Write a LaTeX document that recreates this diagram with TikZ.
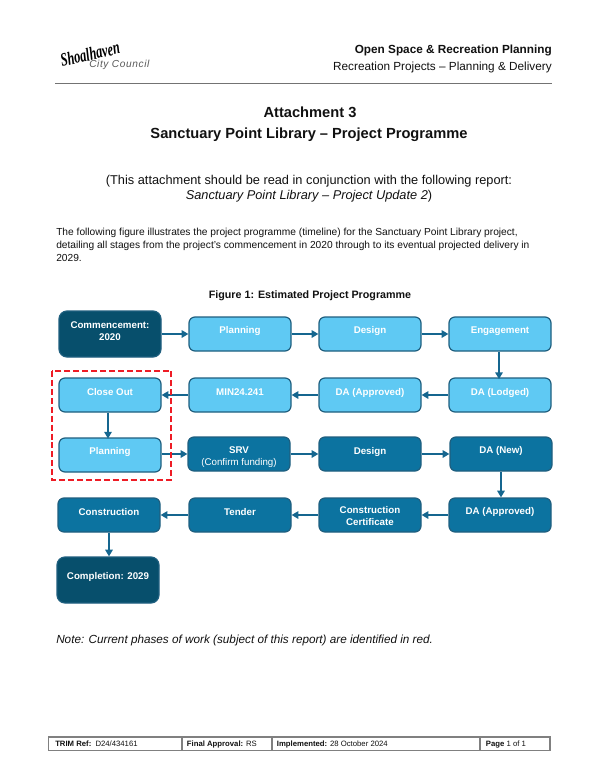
\documentclass[tikz,border=0pt]{standalone}
\usepackage{fontspec}
\setmainfont{Liberation Sans}
\newfontfamily\logofont{Liberation Serif}
\newfontfamily\logosans[LetterSpace=6]{Liberation Sans}
\usetikzlibrary{arrows.meta}
\definecolor{lightb}{HTML}{5FC9F3}
\definecolor{midb}{HTML}{0C73A0}
\definecolor{darkb}{HTML}{074F6C}
\definecolor{edgeb}{HTML}{1F5F7F}
\definecolor{arrowb}{HTML}{15668F}
\definecolor{redd}{HTML}{EE1C25}
\definecolor{ink}{HTML}{111111}
\tikzset{
 x=0.75pt,y=-0.75pt,
 box/.style={draw=edgeb,line width=0.9pt,rounded corners=4.5pt,minimum width=76.5pt,minimum height=25.5pt,inner sep=0pt,anchor=center},
 lb/.style={box,fill=lightb},
 mb/.style={box,fill=midb},
 db/.style={box,fill=darkb,minimum height=34.5pt,rounded corners=6pt},
 flow/.style={draw=arrowb,line width=1.2pt,-{Triangle[length=5pt,width=5.5pt]}},
 txt/.style={inner sep=0pt,text=ink,font=\fontsize{7.65}{9}\selectfont},
 cellb/.style={inner sep=0pt,anchor=base west,text=ink,font=\fontsize{5.8}{7}\selectfont},
 rule/.style={draw=black!55,line width=0.6pt},
 lbl/.style={inner sep=0pt,yshift=-1pt,text=white,font=\fontsize{7.3}{9}\selectfont\bfseries,align=center}
}
\begin{document}
\begin{tikzpicture}
\useasboundingbox (0,0) rectangle (600,776);
\fill[white] (0,0) rectangle (600,776);
% logo
\node[inner sep=0pt,rotate=13,font=\logofont\fontsize{14}{15}\selectfont\bfseries\itshape,text=black] (logoa) at (90,54) {\scalebox{0.66}[1.0]{Shoalhaven}};
\node[inner sep=0pt,font=\logosans\fontsize{7.6}{10}\selectfont\itshape,text=black!65,anchor=west] (logoc) at (89,65) {City Council};
% header
\node[txt,anchor=east,font=\fontsize{8.83}{11}\selectfont\bfseries] (h1) at (552,50) {Open Space \& Recreation Planning};
\node[txt,anchor=east,font=\fontsize{8.83}{11}\selectfont] (h2) at (552,67) {Recreation Projects – Planning \& Delivery};
\draw[rule] (55,83.5) -- (552,83.5);
% titles
\node[txt,font=\fontsize{11}{14}\selectfont\bfseries] (t1) at (310,112.5) {Attachment 3};
\node[txt,font=\fontsize{11}{14}\selectfont\bfseries] (t2) at (309,135) {Sanctuary Point Library – Project Programme};
\node[txt,font=\fontsize{9.58}{12}\selectfont] (s1) at (309,181) {(This attachment should be read in conjunction with the following report:};
\node[txt,font=\fontsize{9.58}{12}\selectfont] (s2) at (309,196) {\itshape Sanctuary Point Library – Project Update 2\upshape )};
\node[txt,anchor=west] (p1) at (56,233) {The following figure illustrates the project programme (timeline) for the Sanctuary Point Library project,};
\node[txt,anchor=west] (p2) at (56,246) {detailing all stages from the project's commencement in 2020 through to its eventual projected delivery in};
\node[txt,anchor=west] (p3) at (56,258) {2029.};
\node[txt,font=\fontsize{8.04}{10}\selectfont\bfseries] (fig) at (310,296) {Figure 1: Estimated Project Programme};
% boxes
\node[db] (a1) at (110,334) {};
\node[lbl] at (110,330) {Commencement:\\2020};
\node[lb] (a2) at (240,334) {};
\node[lbl] at (240,330) {Planning};
\node[lb] (a3) at (370,334) {};
\node[lbl] at (370,330) {Design};
\node[lb] (a4) at (500,334) {};
\node[lbl] at (500,330) {Engagement};
\node[lb] (b1) at (110,395) {};
\node[lbl] at (110,391) {Close Out};
\node[lb] (b2) at (240,395) {};
\node[lbl] at (240,391) {MIN24.241};
\node[lb] (b3) at (370,395) {};
\node[lbl] at (370,392) {DA (Approved)};
\node[lb] (b4) at (500,395) {};
\node[lbl] at (500,392) {DA (Lodged)};
\node[lb] (c1) at (110,455) {};
\node[lbl] at (110,451) {Planning};
\node[mb] (c2) at (239,454) {};
\node[lbl,font=\fontsize{7.3}{9}\selectfont] at (239,456) {{\bfseries SRV}\\(Confirm funding)};
\node[mb] (c3) at (370,454) {};
\node[lbl] at (370,451) {Design};
\node[mb] (c4) at (501,454) {};
\node[lbl] at (501,450) {DA (New)};
\node[mb] (d1) at (109,515) {};
\node[lbl] at (109,511) {Construction};
\node[mb] (d2) at (240,515) {};
\node[lbl] at (240,511) {Tender};
\node[mb] (d3) at (370,515) {};
\node[lbl] at (370,515) {Construction\\Certificate};
\node[mb] (d4) at (500,515) {};
\node[lbl] at (500,511) {DA (Approved)};
\node[db] (e1) at (108,580) {};
\node[lbl] at (108,576) {Completion: 2029};
% connectors
\draw[flow] (a1.east |- a2.west) -- (a2.west);
\draw[flow] (a2) -- (a3);
\draw[flow] (a3) -- (a4);
\draw[flow] (a4.south) ++(-1,0) -- ++(0,27.5);
\draw[flow] (b4.west) -- (b4.west -| b3.east);
\draw[flow] (b3.west) -- (b3.west -| b2.east);
\draw[flow] (b2.west) -- (b2.west -| b1.east);
\draw[flow] (b1.south) ++(-2,0) -- ++(0,26);
\draw[flow] (c1.east |- c2.west) -- (c2.west);
\draw[flow] (c2.east |- c3.west) -- (c3.west);
\draw[flow] (c3) -- (c4);
\draw[flow] (c4.south) -- (c4.south |- d4.north);
\draw[flow] (d4.west) -- (d4.west -| d3.east);
\draw[flow] (d3.west) -- (d3.west -| d2.east);
\draw[flow] (d2.west) -- (d2.west -| d1.east);
\draw[flow] (d1.south) -- (d1.south |- e1.north);
% red highlight
\draw[redd,line width=1.5pt,dash pattern=on 4.5pt off 2.2pt] (52,371) rectangle (171,480);
% note
\node[txt,anchor=west,font=\fontsize{8.8}{12}\selectfont\itshape] (note) at (56,640) {Note: Current phases of work (subject of this report) are identified in red.};
% footer table
\draw[draw=black!50,line width=0.8pt] (48.5,737) rectangle (550,750.5);
\draw[draw=black!50,line width=0.8pt] (182,737) -- (182,750.5) (272,737) -- (272,750.5) (480,737) -- (480,750.5);
\node[cellb] (f1) at (55,746.5) {\textbf{TRIM Ref:}\, D24/434161};
\node[cellb] (f2) at (186.7,746.5) {\textbf{Final Approval:} RS};
\node[cellb] (f3) at (276.7,746.5) {\textbf{Implemented:} 28 October 2024};
\node[cellb] (f4) at (485.7,746.5) {\textbf{Page} 1 of 1};
\end{tikzpicture}
\end{document}
